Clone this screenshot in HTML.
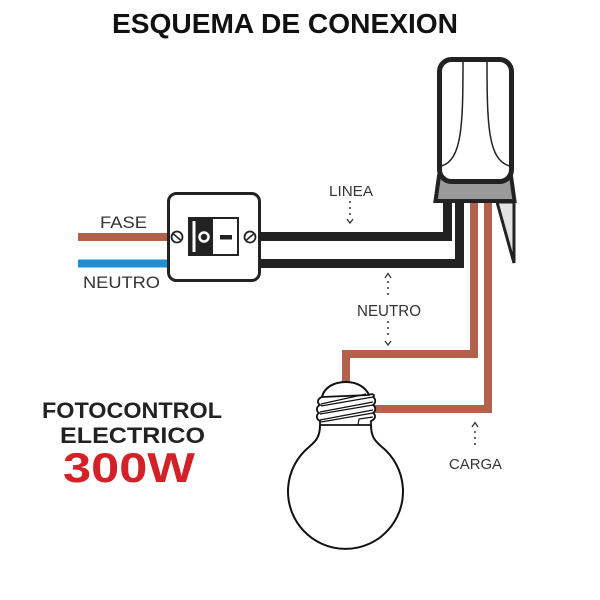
<!DOCTYPE html>
<html><head><meta charset="utf-8"><style>
html,body{margin:0;padding:0;background:#fff;}
svg{display:block;}
text{font-family:"Liberation Sans",Arial,sans-serif;}
</style></head><body>
<svg width="600" height="600" viewBox="0 0 600 600" xmlns="http://www.w3.org/2000/svg">
<rect width="600" height="600" fill="#fff"/>
<!-- Title -->
<text x="112" y="33" font-size="28" font-weight="bold" fill="#111" textLength="346" lengthAdjust="spacingAndGlyphs">ESQUEMA DE CONEXION</text>

<!-- input wires -->
<line x1="78" y1="237" x2="170" y2="237" stroke="#b4614b" stroke-width="8"/>
<line x1="78" y1="263.5" x2="170" y2="263.5" stroke="#1f8fd3" stroke-width="8"/>
<text x="100" y="228" font-size="17" fill="#333" textLength="47" lengthAdjust="spacingAndGlyphs">FASE</text>
<text x="83" y="288" font-size="17" fill="#333" textLength="77" lengthAdjust="spacingAndGlyphs">NEUTRO</text>

<!-- black wires -->
<polyline points="258,236.5 447.5,236.5 447.5,200" fill="none" stroke="#222" stroke-width="9"/>
<polyline points="258,263.5 459.5,263.5 459.5,200" fill="none" stroke="#222" stroke-width="9"/>

<!-- brown wires -->
<polyline points="474,200 474,354 346,354 346,384" fill="none" stroke="#b4614b" stroke-width="8"/>
<polyline points="488,200 488,409 372,409" fill="none" stroke="#b4614b" stroke-width="8"/>

<!-- switch -->
<rect x="168.5" y="193.5" width="91" height="87" rx="8" fill="#fff" stroke="#222" stroke-width="3"/>
<rect x="189" y="218" width="49" height="37" fill="#fff" stroke="#222" stroke-width="2"/>
<rect x="189" y="218" width="24" height="37" fill="#222"/>
<rect x="192.5" y="221" width="3" height="31" fill="#fff"/>
<circle cx="204" cy="237" r="4.5" fill="#222" stroke="#fff" stroke-width="2.5"/>
<rect x="220" y="235" width="12" height="4.5" fill="#222"/>
<circle cx="177" cy="237" r="5.5" fill="#fff" stroke="#222" stroke-width="1.8"/>
<line x1="173.5" y1="234" x2="180.5" y2="240" stroke="#222" stroke-width="1.5"/>
<circle cx="250" cy="237" r="5.5" fill="#fff" stroke="#222" stroke-width="1.8"/>
<line x1="246.5" y1="240" x2="253.5" y2="234" stroke="#222" stroke-width="1.5"/>

<!-- photocontrol -->
<polygon points="497,202 514,202 514,263" fill="#e2e2e2" stroke="#222" stroke-width="3" stroke-linejoin="miter"/>
<polygon points="439,176 511,176 514.5,201 435.5,201" fill="#9a9a9a" stroke="#222" stroke-width="4"/>
<rect x="439.5" y="59.5" width="72" height="122" rx="12" fill="#fff" stroke="#222" stroke-width="5"/>
<path d="M463,60 C463,125 462,160 441.5,166" fill="none" stroke="#222" stroke-width="1.5"/>
<path d="M487,60 C487,125 488,160 509.5,166" fill="none" stroke="#222" stroke-width="1.5"/>
<line x1="435" y1="201" x2="515" y2="201" stroke="#222" stroke-width="4"/>

<!-- labels with dotted arrows -->
<text x="329" y="196" font-size="15" fill="#333" textLength="44" lengthAdjust="spacingAndGlyphs">LINEA</text>
<line x1="350" y1="201" x2="350" y2="218" stroke="#333" stroke-width="1.5" stroke-dasharray="2,4"/>
<polyline points="347,219 350,223 353,219" fill="none" stroke="#333" stroke-width="1.3"/>

<polyline points="385,278 388,273.5 391,278" fill="none" stroke="#333" stroke-width="1.3"/>
<line x1="388" y1="281" x2="388" y2="297" stroke="#333" stroke-width="1.5" stroke-dasharray="2,4"/>
<text x="357" y="316" font-size="16" fill="#333" textLength="64" lengthAdjust="spacingAndGlyphs">NEUTRO</text>
<line x1="388" y1="321" x2="388" y2="338" stroke="#333" stroke-width="1.5" stroke-dasharray="2,4"/>
<polyline points="385,341 388,345 391,341" fill="none" stroke="#333" stroke-width="1.3"/>

<polyline points="472,427 475,422.5 478,427" fill="none" stroke="#333" stroke-width="1.3"/>
<line x1="475" y1="431" x2="475" y2="447" stroke="#333" stroke-width="1.5" stroke-dasharray="2,4"/>
<text x="449" y="469" font-size="15" fill="#333" textLength="53" lengthAdjust="spacingAndGlyphs">CARGA</text>

<!-- bulb -->
<path d="M320,425 C320,437 316,441 309,447 A57.5,57.5 0 1,0 382,447 C375,441 371,437 371,425" fill="#fff" stroke="#111" stroke-width="2"/>
<path d="M322,397 C324,388 333,382 346,382 C358,382 366,388 369,395" fill="#fff" stroke="#111" stroke-width="2"/>
<path d="M322,397 C317,399 317,403 320,405 C316,407 316,411 319,413 C316,415 316,419 320,421 L320,425 L371,425 L371,421 C376,419 376,415 373,413 C376,411 376,407 373,405 C376,403 376,399 373,397 C376,395 372,393 369,395 Z" fill="#fff" stroke="#111" stroke-width="1.8"/>
<path d="M321,404 L366,394 M321,406 L373,397" stroke="#111" stroke-width="1.2" fill="none"/>
<path d="M320,412 L373,402 M320,414 L373,405" stroke="#111" stroke-width="1.2" fill="none"/>
<path d="M320,420 L373,410 M321,422 L373,413" stroke="#111" stroke-width="1.2" fill="none"/>
<path d="M358,425 L359,419 L373,417" stroke="#111" stroke-width="1.2" fill="none"/>

<!-- product text -->
<text x="42" y="418" font-size="22" font-weight="bold" fill="#222" textLength="180" lengthAdjust="spacingAndGlyphs">FOTOCONTROL</text>
<text x="60" y="443" font-size="22" font-weight="bold" fill="#222" textLength="145" lengthAdjust="spacingAndGlyphs">ELECTRICO</text>
<text x="63" y="482" font-size="42" font-weight="bold" fill="#d42027" textLength="132" lengthAdjust="spacingAndGlyphs">300W</text>
</svg>
</body></html>
